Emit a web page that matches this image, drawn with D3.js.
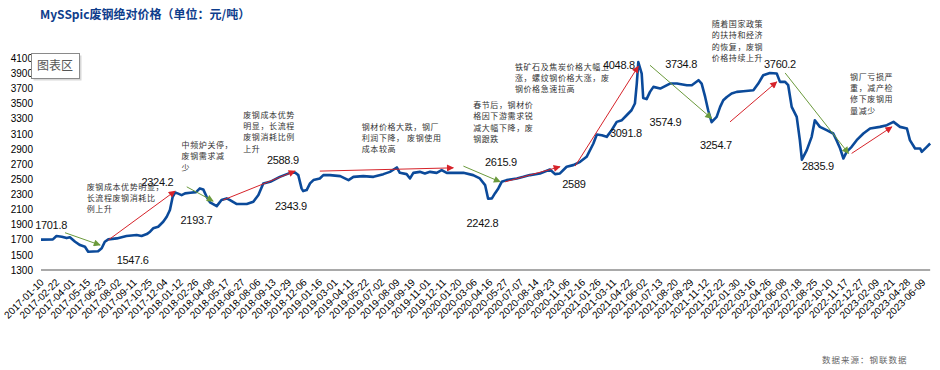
<!DOCTYPE html>
<html>
<head>
<meta charset="utf-8">
<script src="https://cdn.jsdelivr.net/npm/d3@7"></script>
<style>
  body { margin: 0; background: #fff; }
  text { font-family: "Liberation Sans", Arial, sans-serif; }
  .cjk { font-family: "Noto Sans CJK SC", sans-serif; }
</style>
</head>
<body>
<script>
// canvas
const canvWidth = 940, canvHeight = 370;

// category labels on the x axis
const tickLabels = ["2017-01-10","2017-02-22","2017-04-01","2017-05-15","2017-06-23","2017-08-02","2017-09-11","2017-10-25","2017-12-04",
  "2018-01-12","2018-02-26","2018-04-08","2018-05-17","2018-06-27","2018-08-06","2018-09-13","2018-10-29","2018-12-06",
  "2019-01-16","2019-03-01","2019-04-11","2019-05-22","2019-07-02","2019-08-09","2019-09-19","2019-11-01","2019-12-11",
  "2020-01-20","2020-03-06","2020-04-16","2020-05-27","2020-07-07","2020-08-14","2020-09-23","2020-11-06","2020-12-16",
  "2021-01-26","2021-03-11","2021-04-22","2021-06-02","2021-07-13","2021-08-20","2021-09-29","2021-11-12","2021-12-22",
  "2022-01-30","2022-03-16","2022-04-26","2022-06-08","2022-07-18","2022-08-25","2022-10-10","2022-11-17","2022-12-27",
  "2023-02-09","2023-03-21","2023-04-28","2023-06-09"];

const yTicks = [1300,1500,1700,1900,2100,2300,2500,2700,2900,3100,3300,3500,3700,3900,4100];

// price series (元/吨)
const dates = ["2017-01-10","2017-02-12","2017-02-22","2017-03-07","2017-03-19","2017-03-27","2017-04-10","2017-04-24","2017-05-08","2017-05-17",
  "2017-06-11","2017-06-20","2017-06-28","2017-07-07","2017-07-29","2017-08-23","2017-09-19","2017-10-03","2017-10-18","2017-10-27",
  "2017-11-04","2017-11-17","2017-11-30","2017-12-09","2017-12-17","2017-12-24","2017-12-30","2018-01-07","2018-01-16","2018-01-26",
  "2018-02-10","2018-02-27","2018-03-09","2018-03-18","2018-03-27","2018-04-05","2018-04-22","2018-05-04","2018-05-17","2018-05-26",
  "2018-06-13","2018-07-09","2018-07-26","2018-08-08","2018-08-20","2018-09-06","2018-10-03","2018-11-02","2018-11-14","2018-11-22",
  "2018-11-30","2018-12-04","2018-12-13","2018-12-22","2018-12-31","2019-01-17","2019-01-27","2019-02-15","2019-03-15","2019-04-06",
  "2019-04-19","2019-05-15","2019-06-11","2019-07-07","2019-07-23","2019-08-09","2019-08-17","2019-09-04","2019-09-13","2019-09-22",
  "2019-10-10","2019-10-24","2019-11-07","2019-11-24","2019-12-07","2019-12-20","2020-02-03","2020-03-03","2020-03-21","2020-04-04",
  "2020-04-12","2020-04-22","2020-04-30","2020-05-09","2020-05-18","2020-05-31","2020-06-27","2020-07-14","2020-07-30","2020-08-24",
  "2020-09-19","2020-10-03","2020-10-17","2020-11-05","2020-11-22","2020-12-10","2020-12-27","2021-01-14","2021-01-23","2021-02-06",
  "2021-02-20","2021-03-06","2021-03-20","2021-04-03","2021-04-16","2021-04-29","2021-05-08","2021-05-13","2021-05-17","2021-05-26",
  "2021-05-30","2021-06-08","2021-06-17","2021-06-26","2021-07-14","2021-08-07","2021-08-24","2021-09-19","2021-10-02","2021-10-21",
  "2021-10-30","2021-11-09","2021-11-17","2021-11-26","2021-12-09","2021-12-18","2021-12-26","2022-01-04","2022-01-16","2022-01-29",
  "2022-02-17","2022-03-18","2022-03-31","2022-04-13","2022-05-01","2022-05-20","2022-05-29","2022-06-12","2022-06-20","2022-06-29",
  "2022-07-12","2022-07-20","2022-07-25","2022-08-06","2022-08-18","2022-08-26","2022-09-10","2022-09-30","2022-10-18","2022-10-26",
  "2022-11-04","2022-11-12","2022-11-20","2022-12-03","2022-12-16","2023-01-03","2023-01-22","2023-02-18","2023-03-08","2023-03-25",
  "2023-04-10","2023-04-27","2023-05-05","2023-05-19","2023-06-02","2023-06-06","2023-06-20","2023-06-29"];
const prices = [1702,1705,1749,1740,1722,1732,1674,1630,1608,1542,
  1548,1587,1674,1705,1718,1749,1762,1749,1775,1806,
  1851,1872,1938,2004,2093,2268,2324,2310,2291,2313,
  2321,2330,2379,2366,2268,2194,2145,2225,2247,2225,
  2172,2172,2202,2291,2445,2466,2532,2585,2589,2555,
  2379,2344,2357,2445,2489,2511,2555,2555,2542,2489,
  2532,2542,2532,2568,2598,2656,2585,2568,2511,2585,
  2598,2577,2598,2585,2621,2585,2585,2555,2511,2423,
  2243,2247,2313,2379,2466,2489,2511,2532,2555,2577,
  2630,2568,2577,2665,2687,2731,2797,2973,3092,3083,
  3061,3149,3259,3281,3347,3413,3502,3766,4049,3898,
  3575,3560,3656,3722,3700,3766,3766,3744,3744,3810,
  3766,3589,3413,3255,3325,3457,3546,3589,3634,3656,
  3665,3678,3766,3876,3906,3898,3788,3788,3744,3457,
  3325,3017,2760,2885,3061,3281,3193,3149,3105,3017,
  2907,2775,2863,2929,3017,3105,3171,3193,3215,3259,
  3193,3171,3017,2907,2907,2863,2929,2973];

// value callouts: text and where it sits (date, price)
const valueLabels = ["1701.8","1547.6","2324.2","2193.7","2588.9","2343.9","2615.9","2242.8",
  "2589","3091.8","4048.8","3574.9","3734.8","3254.7","3760.2","2835.9"];
const valueLabelAt = [["2017-02-07",1894],["2017-09-08",1432],["2017-11-15",2466],["2018-02-28",1960],
  ["2018-10-12",2753],["2018-11-04",2145],["2020-05-16",2731],["2020-03-28",1925],
  ["2020-11-24",2436],["2021-04-14",3106],["2021-03-26",4008],["2021-07-27",3259],
  ["2021-09-04",4030],["2021-12-07",2951],["2022-05-29",4030],["2022-09-04",2674]];

// trend arrows: start and end (date, price)
const arrowFrom = [["2017-03-15",1793],["2017-07-07",1696],["2018-01-31",2400],["2018-05-08",2225],
  ["2019-01-17",2608],["2020-02-03",2674],["2020-05-27",2466],["2020-11-27",2674],
  ["2021-06-17",4008],["2022-01-12",3259],["2022-06-12",3906],["2022-12-03",2842]];
const arrowTo = [["2017-06-16",1630],["2017-12-30",2344],["2018-04-13",2211],["2018-11-14",2608],
  ["2020-01-06",2651],["2020-05-14",2466],["2020-10-17",2665],["2021-05-17",3995],
  ["2021-11-26",3304],["2022-05-20",3788],["2022-11-25",2842],["2023-03-21",3193]];

// commentary blocks
const notes = [
  ["废钢成本优势明显，","长流程废钢消耗比","例上升"],
  ["中频炉关停，","废钢需求减","少"],
  ["废钢成本优势","明显，长流程","废钢消耗比例","上升"],
  ["钢材价格大跌，钢厂","利润下降， 废钢使用","成本较高"],
  ["春节后，钢材价","格因下游需求锐","减大幅下降，废","钢跟跌"],
  ["铁矿石及焦炭价格大幅上","涨，螺纹钢价格大涨，废","钢价格急速拉高"],
  ["随着国家政策","的扶持和经济","的恢复，废钢","价格持续上升"],
  ["钢厂亏损严","重，减产检","修下废钢用","量减少"]];
const noteAt = [["2017-05-13",2400],["2018-01-16",2951],["2018-06-30",3351],["2019-05-11",3193],
  ["2020-03-03",3480],["2020-06-22",3985],["2021-11-26",4550],["2022-11-29",3854]];

const parse = d3.timeParse("%Y-%m-%d");

const svg = d3.select("body").append("svg")
    .attr("width", canvWidth)
    .attr("height", canvHeight);

// title
svg.append("text")
    .attr("class", "cjk")
    .attr("x", 40)
    .attr("y", 19)
    .attr("font-size", "12px")
    .attr("font-weight", "bold")
    .attr("fill", "#0e3d8c")
    .text("MySSpic废钢绝对价格（单位：元/吨）");

// scales: categories are evenly spaced, so the time scale is piecewise between labels
const tickDates = tickLabels.map(parse);
const xLeft = 41, xRight = 922.8;
const step = (xRight - xLeft) / (tickDates.length - 1);
const xScale = d3.scaleTime()
    .domain(tickDates)
    .range(tickDates.map((d, i) => xLeft + i * step));

const yScale = d3.scaleLinear()
    .domain([1300, 4100])
    .range([270, 58.3]);

// y axis labels only
const yAxis = svg.append("g")
    .attr("transform", "translate(" + xLeft + ",0)")
    .call(d3.axisLeft(yScale).tickValues(yTicks).tickSize(0).tickPadding(8).tickFormat(d3.format("d")));
yAxis.select(".domain").remove();
yAxis.selectAll("text").attr("font-size", "10px").attr("fill", "#000").attr("font-family", "Liberation Sans, Arial, sans-serif");

// x axis
const lastDate = parse(dates[dates.length - 1]);
svg.append("line")
    .attr("x1", xScale(tickDates[0]))
    .attr("x2", xScale(lastDate))
    .attr("y1", yScale(1300))
    .attr("y2", yScale(1300))
    .attr("stroke", "#8c8c8c")
    .attr("stroke-width", 1.3);

const xAxis = svg.append("g")
    .attr("transform", "translate(0," + yScale(1300) + ")")
    .call(d3.axisBottom(xScale).tickValues(tickDates).tickSize(0).tickFormat(d3.timeFormat("%Y-%m-%d")));
xAxis.select(".domain").remove();
xAxis.selectAll("text")
    .attr("x", 0).attr("y", 0).attr("dy", 0)
    .attr("text-anchor", "end")
    .attr("transform", "translate(3,13) rotate(-45)")
    .attr("font-size", "10px")
    .attr("fill", "#000")
    .attr("font-family", "Liberation Sans, Arial, sans-serif");

// price line
const series = dates.map((d, i) => ({date: parse(d), value: prices[i]}));
svg.append("path")
    .datum(series)
    .attr("fill", "none")
    .attr("stroke", "#0b4a9a")
    .attr("stroke-width", 2.6)
    .attr("stroke-linejoin", "round")
    .attr("d", d3.line().x(d => xScale(d.date)).y(d => yScale(d.value)));

// arrow heads
const defs = svg.append("defs");
[["up", "#d6232a"], ["down", "#6b9a3c"]].forEach(([name, col]) => {
  defs.append("marker")
      .attr("id", "head-" + name)
      .attr("viewBox", "0 0 10 10")
      .attr("refX", 9)
      .attr("refY", 5)
      .attr("markerWidth", 9)
      .attr("markerHeight", 7)
      .attr("markerUnits", "userSpaceOnUse")
      .attr("orient", "auto")
    .append("path")
      .attr("d", "M0,0L10,5L0,10z")
      .attr("fill", col);
});

const arrows = arrowFrom.map((a, i) => ({from: a, to: arrowTo[i], up: arrowTo[i][1] >= a[1]}));
svg.append("g").selectAll("line")
    .data(arrows)
    .join("line")
    .attr("x1", d => xScale(parse(d.from[0])))
    .attr("y1", d => yScale(d.from[1]))
    .attr("x2", d => xScale(parse(d.to[0])))
    .attr("y2", d => yScale(d.to[1]))
    .attr("stroke", d => d.up ? "#d6232a" : "#6b9a3c")
    .attr("stroke-width", 1)
    .attr("marker-end", d => d.up ? "url(#head-up)" : "url(#head-down)");

// commentary
const noteG = svg.append("g");
notes.forEach((lines, i) => {
  const t = noteG.append("text")
      .attr("class", "cjk")
      .attr("x", xScale(parse(noteAt[i][0])))
      .attr("y", yScale(noteAt[i][1]))
      .attr("font-size", "8px")
      .attr("letter-spacing", "0.6px")
      .attr("fill", "#333");
  t.selectAll("tspan")
      .data(lines)
      .join("tspan")
      .attr("x", xScale(parse(noteAt[i][0])))
      .attr("dy", (d, j) => j === 0 ? "0.35em" : "11.3px")
      .text(d => d);
});

// value labels
svg.append("g").selectAll("text")
    .data(valueLabels)
    .join("text")
    .attr("x", (d, i) => xScale(parse(valueLabelAt[i][0])))
    .attr("y", (d, i) => yScale(valueLabelAt[i][1]))
    .attr("dy", "0.36em")
    .attr("text-anchor", "middle")
    .attr("font-size", "11px")
    .attr("letter-spacing", "-0.3px")
    .attr("fill", "#111")
    .text(d => d);

// source note
svg.append("text")
    .attr("class", "cjk")
    .attr("x", 822)
    .attr("y", 363)
    .attr("font-size", "8.5px")
    .attr("letter-spacing", "1px")
    .attr("fill", "#666")
    .text("数据来源：钢联数据");

// "chart area" hover box
const box = svg.append("g").attr("transform", "translate(31.5,53.5)");
box.append("rect")
    .attr("x", 2).attr("y", 2)
    .attr("width", 48).attr("height", 25)
    .attr("fill", "#d8d8d8");
box.append("rect")
    .attr("width", 48).attr("height", 25)
    .attr("fill", "#fff")
    .attr("stroke", "#8a8a8a")
    .attr("stroke-width", 1);
box.append("text")
    .attr("class", "cjk")
    .attr("x", 5.5)
    .attr("y", 16.5)
    .attr("font-size", "12px")
    .attr("fill", "#555")
    .text("图表区");
</script>
</body>
</html>
